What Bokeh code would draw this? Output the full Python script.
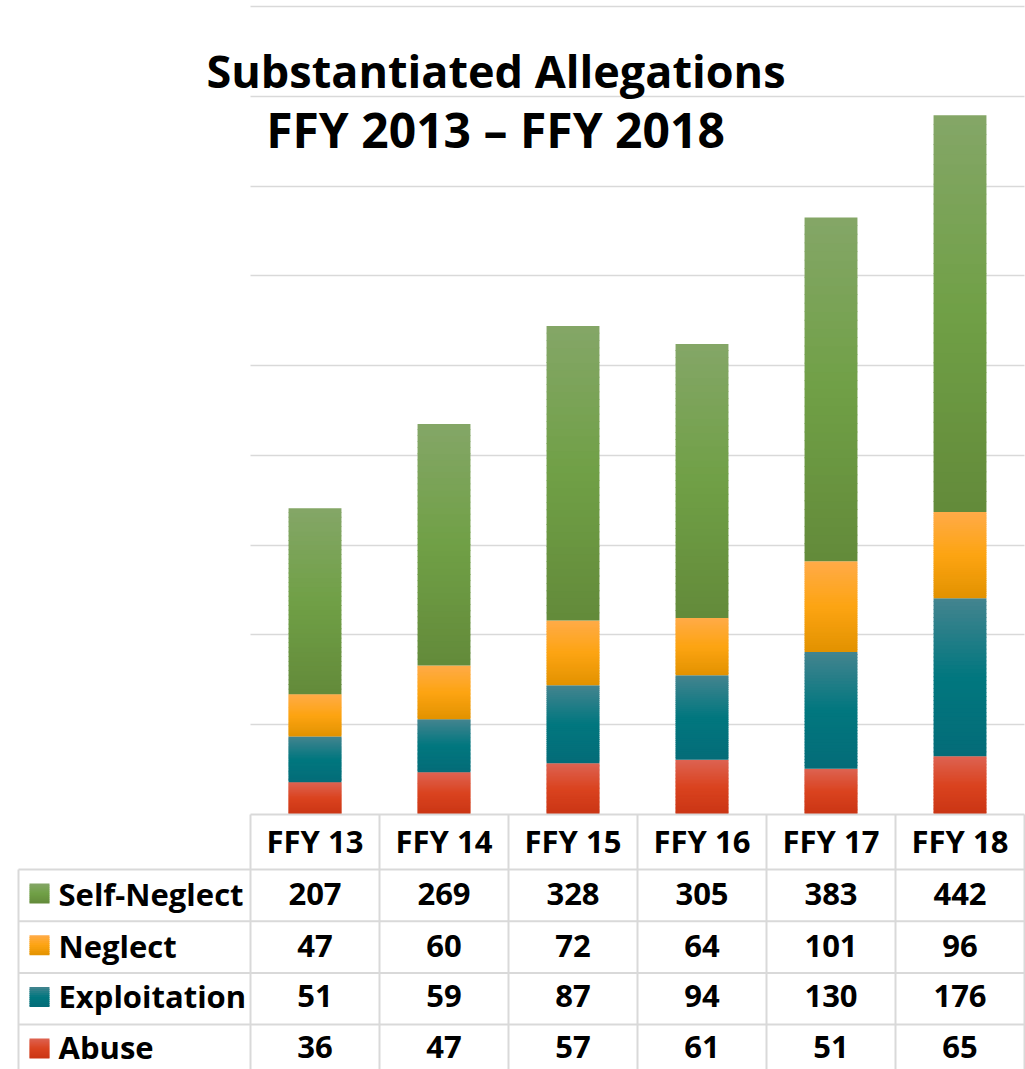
import numpy as np
from bokeh.plotting import figure
from bokeh.models import FixedTicker, Grid
from bokeh.core.properties import value
from bokeh.embed import file_html
from bokeh.resources import INLINE

# ---------------- data ----------------
categories = ["FFY 13", "FFY 14", "FFY 15", "FFY 16", "FFY 17", "FFY 18"]
abuse = [36, 47, 57, 61, 51, 65]
exploitation = [51, 59, 87, 94, 130, 176]
neglect = [47, 60, 72, 64, 101, 96]
self_neglect = [207, 269, 328, 305, 383, 442]
stack_order = ["Abuse", "Exploitation", "Neglect", "Self-Neglect"]      # bottom -> top
table_order = ["Self-Neglect", "Neglect", "Exploitation", "Abuse"]       # table rows
title_lines = ["Substantiated Allegations", "FFY 2013 \u2013 FFY 2018"]
grid_values = [100, 200, 300, 400, 500, 600, 700, 800, 900]

series = {"Abuse": abuse, "Exploitation": exploitation,
          "Neglect": neglect, "Self-Neglect": self_neglect}
# gradient colours (top, middle, bottom)
colors = {
    "Self-Neglect": ("#84a667", "#70a046", "#638a3a"),
    "Neglect": ("#ffab48", "#fda412", "#e29200"),
    "Exploitation": ("#44848f", "#01777f", "#046c78"),
    "Abuse": ("#dd6352", "#da431f", "#ca3514"),
}

# ---------------- layout constants (page pixels) ----------------
W, H = 1025, 1069
OFF = 0
X0 = 250.0          # left edge of first category column
SX = 129.0          # px per category
BASE = 814.0        # baseline
SY = 808.0 / 900.0  # px per unit value
FONT = value("Open Sans")
GRID_COLOR = "#d9d9d9"
BL_CORR = 0.40      # empirical baseline correction (fraction of font size)


def xd(px):
    return (px - X0) / SX


def yd(py):
    return (BASE - py) / SY


def ybl(py, size):
    # y position so that the text baseline lands on page pixel py
    return yd(py - BL_CORR * size)


def hex2rgb(h):
    h = h.lstrip("#")
    return np.array([int(h[i:i + 2], 16) for i in (0, 2, 4)], dtype=float)


def rgb2hex(c):
    c = np.clip(np.round(c), 0, 255).astype(int)
    return "#%02x%02x%02x" % tuple(c)


def grad_color(stops, f):
    # f = 0 at top, 1 at bottom
    top, mid, bot = (hex2rgb(s) for s in stops)
    if f <= 0.5:
        return rgb2hex(top + (mid - top) * (f / 0.5))
    return rgb2hex(mid + (bot - mid) * ((f - 0.5) / 0.5))


p = figure(width=W, height=H, output_backend="svg", toolbar_location=None,
           x_range=(xd(OFF), xd(OFF + W)), y_range=(yd(OFF + H), yd(OFF)),
           x_axis_type=None, y_axis_type=None, min_border=0,
           background_fill_color="white", border_fill_color="white")
p.outline_line_color = None

# horizontal gridlines (value axis)
grid = Grid(dimension=1, ticker=FixedTicker(ticks=grid_values),
            grid_line_color=GRID_COLOR, grid_line_width=1.6)
try:
    grid.cross_bounds = (0, len(categories))
    p.add_layout(grid, "center")
except Exception:
    p.segment(x0=[0] * len(grid_values), x1=[len(categories)] * len(grid_values),
              y0=grid_values, y1=grid_values, line_color=GRID_COLOR, line_width=1.6)

# ---------------- stacked bars with vertical gradient ----------------
N = 40
bar_w = 0.41
overlap = 0.8 / SY   # ~0.8px overlap between bands to avoid seams
L, R, B, T, C = [], [], [], [], []
cum = np.zeros(len(categories))
for name in stack_order:
    vals = np.array(series[name], dtype=float)
    for i in range(len(categories)):
        b0, t0 = cum[i], cum[i] + vals[i]
        for k in range(N):
            bb = b0 + (t0 - b0) * k / N
            tt = min(t0, b0 + (t0 - b0) * (k + 1) / N + overlap)
            f = 1 - (k + 0.5) / N
            L.append(i + 0.5 - bar_w / 2)
            R.append(i + 0.5 + bar_w / 2)
            B.append(bb)
            T.append(tt)
            C.append(grad_color(colors[name], f))
    cum += vals
p.quad(left=L, right=R, bottom=B, top=T, fill_color=C, line_color=None)

# ---------------- title ----------------
p.text(x=[xd(495.5)], y=[ybl(88, 45)], text=[title_lines[0]],
       text_font=FONT, text_font_style="bold", text_font_size="45px",
       text_align="center", text_baseline="alphabetic", text_color="black")
p.text(x=[xd(495)], y=[ybl(148, 48)], text=[title_lines[1]],
       text_font=FONT, text_font_style="bold", text_font_size="48px",
       text_align="center", text_baseline="alphabetic", text_color="black")

# ---------------- data table ----------------
ncat = len(categories)
header_bottom = 869.0
row_h = 51.7
row_tops = [header_bottom + r * row_h for r in range(len(table_order) + 1)]
TS = 31

# borders
hx0 = [0] + [xd(18)] * len(row_tops)
hx1 = [ncat] * (1 + len(row_tops))
hy = [0] + [yd(v) for v in row_tops]
p.segment(x0=hx0, x1=hx1, y0=hy, y1=hy, line_color=GRID_COLOR, line_width=2)
vx = list(range(ncat + 1)) + [xd(18)]
vy0 = [0] * (ncat + 1) + [yd(header_bottom)]
vy1 = [yd(OFF + H)] * (ncat + 2)
p.segment(x0=vx, x1=vx, y0=vy0, y1=vy1, line_color=GRID_COLOR, line_width=2)

# header
p.text(x=[i + 0.5 for i in range(ncat)], y=[ybl(853, TS)] * ncat, text=categories,
       text_font=FONT, text_font_style="bold", text_font_size=f"{TS}px",
       text_align="center", text_baseline="alphabetic", text_color="black")

baselines = [906, 958, 1008, 1059]
tx, ty, tt = [], [], []
for r, name in enumerate(table_order):
    for i in range(ncat):
        tx.append(i + 0.5)
        ty.append(ybl(baselines[r], TS))
        tt.append(str(series[name][i]))
p.text(x=tx, y=ty, text=tt, text_font=FONT, text_font_style="bold",
       text_font_size=f"{TS}px", text_align="center", text_baseline="alphabetic",
       text_color="black")

p.text(x=[xd(58)] * len(table_order), y=[ybl(b, TS) for b in baselines], text=table_order,
       text_font=FONT, text_font_style="bold", text_font_size=f"{TS}px",
       text_align="left", text_baseline="alphabetic", text_color="black")

# legend keys (small gradient squares)
NK = 10
kL, kR, kB, kT, kC = [], [], [], [], []
for r, name in enumerate(table_order):
    top_px = row_tops[r] + 14
    for k in range(NK):
        y_top = top_px + 20 * k / NK
        y_bot = top_px + 20 * (k + 1) / NK + (0.8 if k < NK - 1 else 0)
        kL.append(xd(29)); kR.append(xd(49))
        kT.append(yd(y_top)); kB.append(yd(y_bot))
        kC.append(grad_color(colors[name], (k + 0.5) / NK))
p.quad(left=kL, right=kR, bottom=kB, top=kT, fill_color=kC, line_color=None)

open("out.html", "w").write(file_html(p, INLINE))
